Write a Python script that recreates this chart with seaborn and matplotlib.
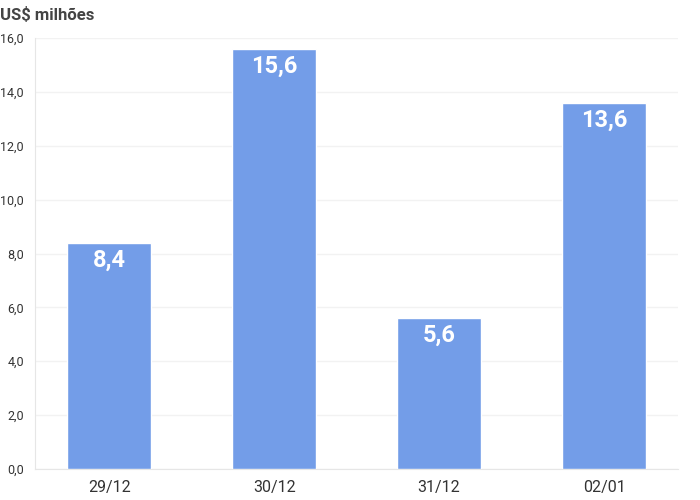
import pandas as pd
import seaborn as sb
import matplotlib.pyplot as plt

# dados do grafico
datas = ['29/12', '30/12', '31/12', '02/01']
valores = [8.4, 15.6, 5.6, 13.6]
ticks_y = [0, 2, 4, 6, 8, 10, 12, 14, 16]

df = pd.DataFrame({'data': datas, 'valor': valores})

sb.set_style('white')
plt.rcParams['font.family'] = ['Roboto', 'DejaVu Sans']

fig = plt.figure(figsize=(7, 5), dpi=100)
ax = fig.add_axes([0.05, 0.062, 0.919, 0.862])

sb.barplot(data=df, x='data', y='valor', color='#739de8', saturation=1, width=0.51, ax=ax, zorder=3)

#rotulos dentro das barras
for i, v in enumerate(valores):
    ax.text(i, v - 0.22, f'{v:.1f}'.replace('.', ','), ha='center', va='top',
            color='white', fontsize=17, fontweight='bold', zorder=4)

ax.set_ylim(0, 16)
ax.set_xlim(-0.45, 3.45)
ax.set_yticks(ticks_y)
ax.set_yticklabels([f'{t:.1f}'.replace('.', ',') for t in ticks_y], fontsize=9, color='#333333')
ax.tick_params(axis='x', labelsize=11.5, labelcolor='#333333', length=0, pad=8)
ax.tick_params(axis='y', length=5, color='#dddddd', width=1, pad=3)
ax.grid(axis='y', color='#f2f2f2', linewidth=1, zorder=0)
ax.set_xlabel('')
ax.set_ylabel('')
for s in ['top', 'right']:
    ax.spines[s].set_visible(False)
ax.spines['left'].set_color('#e6e6e6')
ax.spines['bottom'].set_color('#e6e6e6')

fig.text(0.0, 0.985, 'US$ milhões', fontsize=12, fontweight='semibold', color='#444444', ha='left', va='top')

plt.savefig('out.png', dpi=100)
